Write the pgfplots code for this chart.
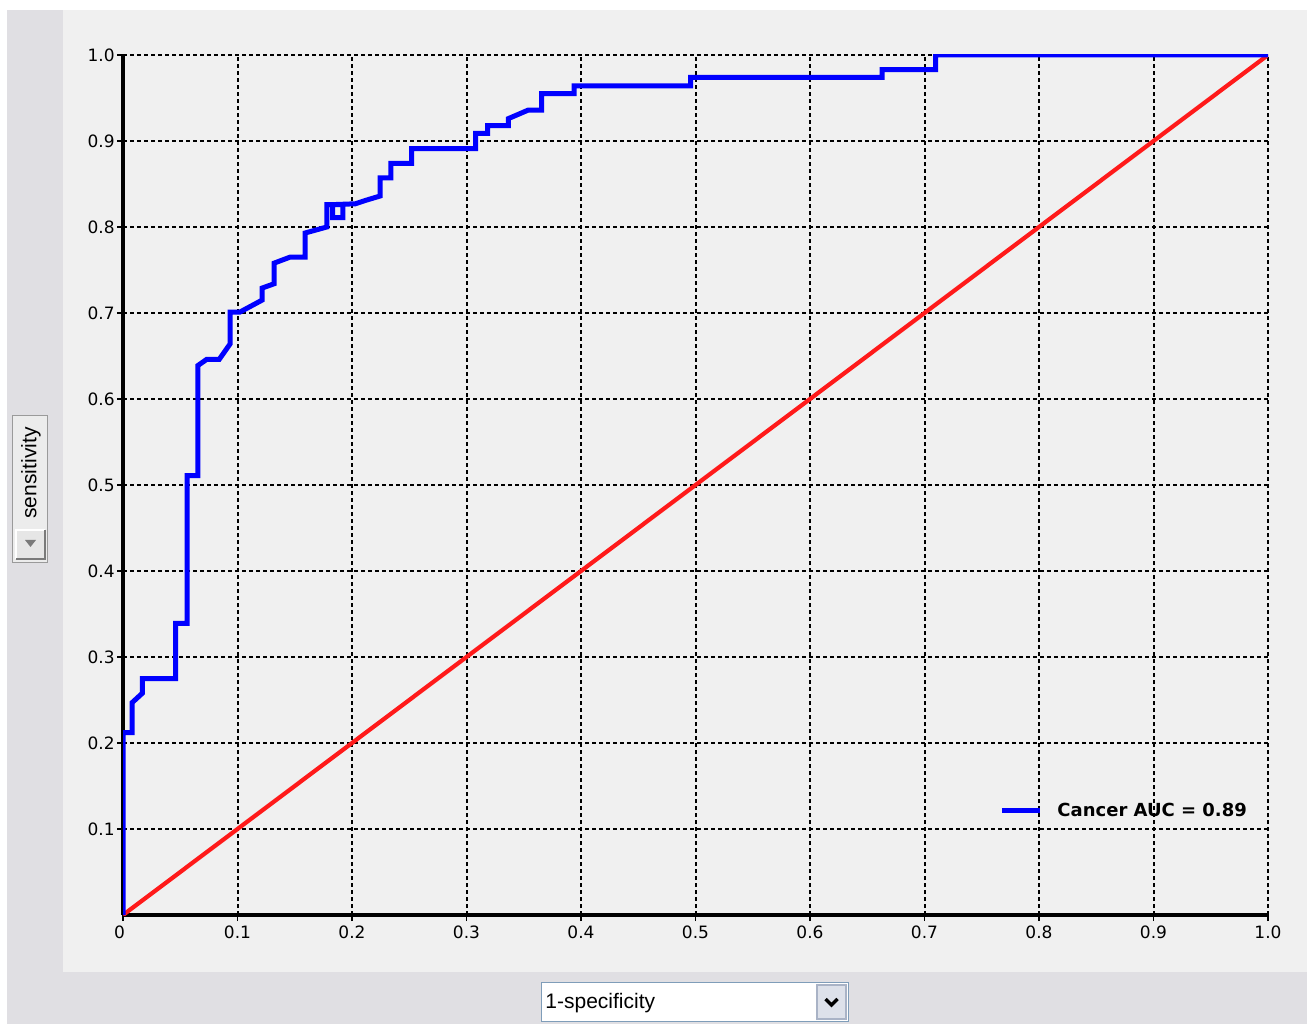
\documentclass[border=0pt]{standalone}
\usepackage{pgfplots}
\pgfplotsset{compat=1.18}
\usepackage{fontspec}
\setmainfont{Liberation Sans}
\newfontfamily\dejavu{DejaVu Sans}
\definecolor{outergray}{HTML}{E0DFE3}
\definecolor{panel}{HTML}{F0F0F0}
\definecolor{rocblue}{HTML}{0000FF}
\definecolor{rocred}{HTML}{FF1A1A}
\definecolor{cbborder}{HTML}{7F9DB9}
\definecolor{wfill}{HTML}{ECECEC}
\definecolor{wborder}{HTML}{9A9A9A}
\definecolor{bfill}{HTML}{E6E6E6}
\definecolor{bdark}{HTML}{7A7A7A}
\definecolor{cbfill}{HTML}{DDE1EA}
\definecolor{cbbtn}{HTML}{A9B3C6}
\begin{document}
\begin{tikzpicture}
\begin{scope}[x=0.5pt,y=0.5pt]
  \fill[white] (0,0) rectangle (1307,1024);
  \fill[outergray] (7,0) rectangle (1307,1014);
  \fill[panel] (63,52) rectangle (1307,1014);
  % sensitivity widget
  \fill[wfill] (12,461) rectangle (48,609);
  \draw[wborder, line width=0.6pt] (12.5,461.5) rectangle (47.5,608.5);
  \node[rotate=90, font=\fontsize{10.5}{12}\selectfont, inner sep=0pt] at (31,551) {sensitivity};
  \fill[bfill] (16,465) rectangle (45,494);
  \draw[white, line width=0.6pt] (16,465) -- (16,494) -- (45,494);
  \draw[bdark, line width=0.6pt] (16,465) -- (45,465) -- (45,494);
  \fill[bdark] (25,484) -- (36,484) -- (30.5,477) -- cycle;
  % 1-specificity combobox
  \fill[white] (541,2) rectangle (849,42);
  \draw[cbborder, line width=0.7pt] (541.5,2.5) rectangle (848.5,41.5);
  \node[anchor=west, font=\fontsize{10.5}{12}\selectfont, inner sep=0pt] at (545,21) {1-specificity};
  \fill[cbfill] (817,5) rectangle (846,39);
  \draw[cbbtn, line width=0.6pt] (817,5) rectangle (846,39);
  \draw[black, line width=1.6pt] (825.5,25) -- (831.5,19) -- (837.5,25);
\end{scope}
\begin{axis}[
  at={(61.5pt,54.5pt)}, anchor=south west,
  scale only axis, width=572.5pt, height=430pt,
  xmin=0, xmax=1, ymin=0, ymax=1,
  axis x line=bottom, axis y line=left,
  axis line style={line width=2.2pt, -, black},
  xtick={0,0.1,0.2,0.3,0.4,0.5,0.6,0.7,0.8,0.9,1},
  xticklabels={\llap{0\hspace{-1pt}},0.1,0.2,0.3,0.4,0.5,0.6,0.7,0.8,0.9,1.0},
  ytick={0.1,0.2,0.3,0.4,0.5,0.6,0.7,0.8,0.9,1},
  yticklabels={0.1,0.2,0.3,0.4,0.5,0.6,0.7,0.8,0.9,1.0},
  tick align=outside, major tick length=3pt,
  tick style={black, line width=0.8pt},
  ticklabel style={font=\dejavu\fontsize{8.5}{10}\selectfont},
  yticklabel style={inner sep=1pt},
  xticklabel style={inner sep=1pt, yshift=-1pt},
  grid=major,
  major grid style={black, line width=1pt, dash pattern=on 2pt off 1.5pt},
  legend style={at={(0.7651,0.1210)}, anchor=west, draw=none, fill=none,
    inner sep=0pt, font=\dejavu\bfseries\fontsize{9}{11}\selectfont,
    /tikz/every even column/.style={column sep=0pt}},
  legend image code/.code={\draw[#1] (0pt,0pt) -- (19pt,0pt);},
  legend cell align=left,
]
\addplot[rocred, line width=2.1pt, forget plot] coordinates {(0,0) (1,1)};
\addplot[rocblue, line width=2.5pt, line join=miter, line cap=butt] coordinates {
(0,0) (0,0.212) (0.008,0.212) (0.008,0.247) (0.017,0.258) (0.017,0.275)
(0.046,0.275) (0.046,0.339) (0.056,0.339) (0.056,0.511) (0.0655,0.511)
(0.0655,0.639) (0.073,0.646) (0.084,0.646) (0.0935,0.664) (0.0935,0.701)
(0.102,0.701) (0.1215,0.715) (0.1215,0.729) (0.132,0.734) (0.132,0.758)
(0.146,0.765) (0.159,0.765) (0.159,0.793) (0.178,0.800) (0.178,0.826)
(0.192,0.826) (0.192,0.811) (0.183,0.811) (0.183,0.826) (0.203,0.827)
(0.212,0.831) (0.2245,0.836) (0.2245,0.857) (0.234,0.857) (0.234,0.874)
(0.252,0.874) (0.252,0.891) (0.308,0.891) (0.308,0.909) (0.3185,0.909)
(0.3185,0.918) (0.3365,0.918) (0.3365,0.926) (0.354,0.936) (0.3657,0.936)
(0.3657,0.955) (0.394,0.955) (0.394,0.964) (0.4958,0.964) (0.4958,0.974)
(0.663,0.974) (0.663,0.983) (0.7098,0.983) (0.7098,1.0) (1,1.0)};
\addlegendentry{\hspace{5.5pt}Cancer AUC = 0.89}
\end{axis}
\pgfresetboundingbox
\path[use as bounding box] (0,0) rectangle (653.5pt,512pt);
\end{tikzpicture}
\end{document}
